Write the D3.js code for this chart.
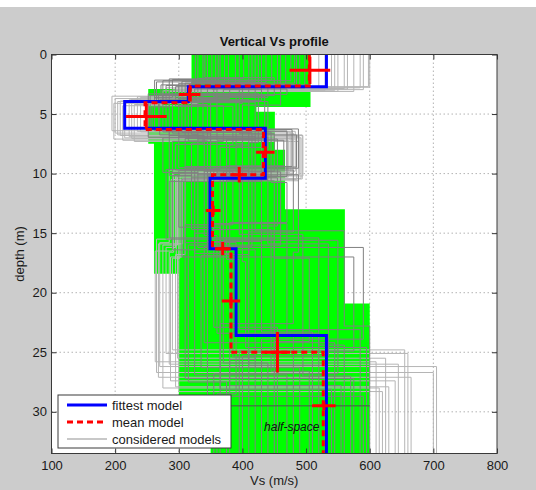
<!DOCTYPE html>
<html>
<head>
<meta charset="utf-8">
<script src="https://cdn.jsdelivr.net/npm/d3@7"></script>
<style>
  html, body { margin: 0; padding: 0; background: #ffffff; }
  svg { display: block; }
  text { font-family: "Liberation Sans", Arial, Helvetica, sans-serif; }
</style>
</head>
<body>
<svg id="chart" width="536" height="490"></svg>
<script>
// ---- axis ticks ----
const xTicks = [100, 200, 300, 400, 500, 600, 700, 800];
const yTicks = [0, 5, 10, 15, 20, 25, 30];
const maxDepth = 33.5;

// ---- fittest model (layer Vs, interface depths) ----
const fittestVs = [532, 315, 215, 436, 349, 390, 532];
const fittestDepth = [2.7, 3.95, 6.2, 10.4, 16.3, 23.6];

// ---- mean model ----
const meanVs = [505, 318, 247, 433, 353, 382, 527];
const meanDepth = [2.65, 4.05, 6.3, 10.1, 16.3, 25.0];

// ---- mean-model uncertainty crosses ----
const crossVs = [506, 317, 249, 436, 395, 354, 369, 382, 455, 528];
const crossDepth = [1.33, 3.35, 5.2, 8.2, 10.1, 13.1, 16.3, 20.7, 25.0, 29.5];
const crossVsErr = [32, 17, 32, 14.5, 12, 11.5, 9, 14.5, 20, 18.5];
const crossDepthErr = [1.15, 0.55, 1.05, 0.5, 0.65, 0.4, 0.55, 0.35, 1.7, 0.35];

// ---- range of accepted models (green envelope) ----
const envLeftTop = [0, 2.9, 7.5, 18.4, 29.5];
const envLeftVs = [320, 252, 261, 300, 350];
const envRightTop = [0, 4.4, 4.8, 8.0, 13.0, 20.9];
const envRightVs = [507, 422, 451, 467, 561, 600];
const halfSpaceDepth = 29.5;

// ---- considered models: one array per layer / interface, one entry per model ----
const modelVs = [
  [330, 455, 372, 498, 341, 420, 389, 476, 352, 437, 505, 365, 410, 482, 326, 446, 395, 468, 358, 430, 490, 345, 402, 460, 378, 425, 338, 485, 415, 362],
  [290, 410, 265, 335, 450, 300, 380, 275, 470, 320, 355, 285, 430, 310, 395, 262, 345, 460, 305, 370, 280, 420, 330, 295, 440, 315, 360, 272, 400, 325],
  [262, 330, 285, 410, 255, 370, 300, 440, 275, 345, 390, 258, 320, 425, 290, 360, 268, 400, 310, 435, 280, 350, 252, 385, 305, 420, 270, 338, 395, 315],
  [300, 455, 340, 380, 478, 290, 420, 365, 445, 275, 400, 488, 330, 410, 350, 465, 285, 390, 430, 310, 470, 360, 440, 295, 415, 375, 485, 320, 450, 345],
  [340, 290, 385, 450, 310, 420, 365, 280, 470, 330, 400, 355, 488, 300, 440, 375, 320, 460, 285, 410, 350, 430, 305, 480, 345, 395, 325, 455, 370, 415],
  [360, 420, 310, 505, 390, 560, 335, 450, 380, 590, 405, 325, 480, 365, 535, 395, 445, 315, 520, 370, 470, 345, 575, 410, 355, 495, 385, 430, 550, 340],
  [520, 380, 575, 450, 360, 600, 490, 410, 555, 430, 595, 470, 365, 540, 400, 585, 505, 375, 560, 440, 480, 590, 395, 530, 455, 570, 420, 510, 355, 545]
];
const modelDepth = [
  [2.1, 2.6, 2.3, 2.8, 1.95, 2.45, 2.7, 2.2, 2.9, 2.35, 2.55, 2.05, 2.75, 2.4, 2.65, 2.15, 2.85, 2.5, 2.25, 2.95, 2.6, 2.3, 2.0, 2.7, 2.45, 2.8, 2.2, 2.55, 2.35, 2.9],
  [3.6, 3.3, 4.1, 3.8, 3.45, 4.3, 3.7, 3.95, 3.35, 4.2, 3.55, 4.4, 3.85, 3.25, 4.05, 3.65, 3.4, 4.25, 3.75, 3.5, 4.15, 3.9, 3.3, 4.35, 3.6, 4.0, 3.8, 3.45, 4.1, 3.7],
  [6.4, 7.1, 6.8, 7.6, 6.3, 7.3, 6.9, 7.8, 6.5, 7.0, 7.5, 6.25, 6.7, 7.4, 6.6, 7.2, 6.35, 7.7, 6.85, 7.05, 6.45, 7.35, 6.95, 7.55, 6.55, 7.15, 6.75, 7.45, 6.65, 7.25],
  [9.5, 10.2, 9.8, 10.6, 9.4, 10.0, 10.4, 9.65, 10.75, 9.9, 10.3, 9.55, 10.1, 9.75, 10.5, 9.35, 10.15, 9.85, 10.65, 9.6, 10.25, 9.95, 10.45, 9.7, 10.05, 10.55, 9.45, 10.35, 9.8, 10.2],
  [15.2, 16.4, 14.3, 17.1, 15.8, 14.8, 16.9, 15.5, 14.1, 16.2, 17.4, 15.0, 16.6, 14.5, 15.9, 17.2, 14.7, 16.0, 15.4, 16.8, 14.2, 15.7, 17.0, 14.9, 16.3, 15.1, 16.7, 14.4, 15.6, 16.1],
  [23.4, 25.6, 27.2, 24.1, 28.5, 22.8, 26.3, 25.0, 27.8, 23.9, 24.6, 26.9, 22.6, 28.1, 25.3, 23.1, 26.6, 27.5, 24.4, 25.9, 23.6, 28.7, 24.9, 26.1, 22.9, 27.0, 25.4, 23.3, 26.8, 24.2]
];
// poorer-fit models, drawn lighter
const outerVs = [
  [540, 575, 598, 520, 560, 590, 530, 585, 550, 565, 600, 545],
  [300, 285, 320, 275, 310, 295, 330, 280, 305, 290, 315, 300],
  [200, 215, 195, 230, 208, 240, 198, 222, 212, 235, 204, 226],
  [480, 492, 470, 488, 495, 475, 485, 490, 472, 483, 494, 478],
  [290, 305, 285, 300, 295, 310, 288, 302, 298, 292, 306, 296],
  [263, 287, 270, 300, 280, 295, 265, 290, 275, 285, 268, 298],
  [610, 640, 705, 620, 660, 630, 700, 655, 615, 645, 665, 625]
];
const outerDepth = [
  [2.9, 3.1, 2.7, 3.05, 2.85, 2.95, 3.0, 2.8, 3.1, 2.9, 2.75, 3.0],
  [3.7, 4.0, 3.5, 4.2, 3.9, 3.6, 4.1, 3.8, 4.3, 3.55, 3.95, 3.75],
  [6.6, 7.0, 6.4, 7.3, 6.8, 6.5, 7.1, 6.9, 7.2, 6.45, 6.75, 7.05],
  [10.0, 10.4, 9.7, 10.6, 10.2, 9.9, 10.5, 10.1, 10.3, 9.8, 10.45, 10.15],
  [16.5, 17.0, 15.8, 17.3, 16.2, 16.8, 15.5, 17.1, 16.0, 16.6, 15.9, 16.9],
  [25.8, 27.4, 26.2, 28.3, 25.1, 27.9, 26.7, 24.8, 28.0, 26.0, 27.1, 25.5]
];

const legendItems = ["fittest model", "mean model", "considered models"];

// ---- layout ----
const svg = d3.select("#chart");
const W = 536, H = 490;
const plotL = 51.5, plotR = 497, plotT = 54.5, plotB = 453.5;

const x = d3.scaleLinear().domain([100, 800]).range([plotL, plotR]);
const y = d3.scaleLinear().domain([0, maxDepth]).range([plotT, plotB]);

// figure background
svg.append("rect").attr("width", W).attr("height", H).attr("fill", "#cccccc");
svg.append("rect").attr("width", W).attr("height", 7).attr("fill", "#ffffff");

// axes area
svg.append("rect")
  .attr("x", plotL).attr("y", plotT)
  .attr("width", plotR - plotL).attr("height", plotB - plotT)
  .attr("fill", "#ffffff");

svg.append("clipPath").attr("id", "plotClip")
  .append("rect")
  .attr("x", plotL).attr("y", plotT)
  .attr("width", plotR - plotL).attr("height", plotB - plotT);

// dotted grid
const grid = svg.append("g").attr("stroke", "#b3b3b3").attr("stroke-width", 1)
  .attr("stroke-dasharray", "1.5,2.5");
grid.selectAll(".gx").data(xTicks.slice(1, -1)).join("line")
  .attr("x1", d => x(d)).attr("x2", d => x(d))
  .attr("y1", plotT).attr("y2", plotB);
grid.selectAll(".gy").data(yTicks.slice(1)).join("line")
  .attr("x1", plotL).attr("x2", plotR)
  .attr("y1", d => y(d)).attr("y2", d => y(d));

const plot = svg.append("g").attr("clip-path", "url(#plotClip)");

// step profile helper: layer velocities + interface depths -> polyline points
function stepPoints(vs, depths) {
  const pts = [];
  let top = 0;
  vs.forEach((v, i) => {
    const bot = i < depths.length ? depths[i] : maxDepth;
    pts.push([v, top], [v, bot]);
    top = bot;
  });
  return pts;
}
const line = d3.line().x(d => x(d[0])).y(d => y(d[1]));

// green envelope of accepted models
function envelopePoints() {
  const pts = [];
  envLeftVs.forEach((v, i) => {
    const bot = i + 1 < envLeftTop.length ? envLeftTop[i + 1] : maxDepth;
    pts.push([v, envLeftTop[i]], [v, bot]);
  });
  for (let i = envRightVs.length - 1; i >= 0; i--) {
    const bot = i + 1 < envRightTop.length ? envRightTop[i + 1] : maxDepth;
    pts.push([envRightVs[i], bot], [envRightVs[i], envRightTop[i]]);
  }
  return pts;
}
plot.append("path")
  .attr("d", line(envelopePoints()) + "Z")
  .attr("fill", "#00ff00").attr("stroke", "none");

// considered models
function modelsOf(vsArr, depthArr) {
  const n = vsArr[0].length;
  return d3.range(n).map(i => stepPoints(vsArr.map(l => l[i]), depthArr.map(l => l[i])));
}
plot.append("g").selectAll("path").data(modelsOf(outerVs, outerDepth)).join("path")
  .attr("d", line).attr("fill", "none")
  .attr("stroke", "#b5b5b5").attr("stroke-width", 1);
plot.append("g").selectAll("path").data(modelsOf(modelVs, modelDepth)).join("path")
  .attr("d", line).attr("fill", "none")
  .attr("stroke", "#808080").attr("stroke-width", 1);

// top of the half-space
plot.append("line")
  .attr("x1", x(300)).attr("x2", x(600))
  .attr("y1", y(halfSpaceDepth)).attr("y2", y(halfSpaceDepth))
  .attr("stroke", "#505050").attr("stroke-width", 1);

plot.append("text")
  .attr("x", x(434)).attr("y", y(31.65))
  .attr("font-size", 12).attr("font-style", "italic").attr("fill", "#111")
  .text("half-space");

// fittest and mean models
plot.append("path")
  .attr("d", line(stepPoints(fittestVs, fittestDepth)))
  .attr("fill", "none").attr("stroke", "#0000ff").attr("stroke-width", 3);
plot.append("path")
  .attr("d", line(stepPoints(meanVs, meanDepth)))
  .attr("fill", "none").attr("stroke", "#ff0000").attr("stroke-width", 3)
  .attr("stroke-dasharray", "6,4");

// uncertainty crosses
const crosses = plot.append("g").attr("stroke", "#ff0000").attr("stroke-width", 3);
crossVs.forEach((v, i) => {
  crosses.append("line")
    .attr("x1", x(v - crossVsErr[i])).attr("x2", x(v + crossVsErr[i]))
    .attr("y1", y(crossDepth[i])).attr("y2", y(crossDepth[i]));
  crosses.append("line")
    .attr("x1", x(v)).attr("x2", x(v))
    .attr("y1", y(crossDepth[i] - crossDepthErr[i])).attr("y2", y(crossDepth[i] + crossDepthErr[i]));
});

// axes with inward ticks on all four sides
const tickLen = 5;
const axB = svg.append("g").attr("transform", `translate(0,${plotB})`)
  .call(d3.axisBottom(x).tickValues(xTicks).tickSizeInner(-tickLen).tickSizeOuter(0).tickPadding(7));
const axT = svg.append("g").attr("transform", `translate(0,${plotT})`)
  .call(d3.axisTop(x).tickValues(xTicks).tickSizeInner(-tickLen).tickSizeOuter(0).tickFormat(""));
const axL = svg.append("g").attr("transform", `translate(${plotL},0)`)
  .call(d3.axisLeft(y).tickValues(yTicks).tickSizeInner(-tickLen).tickSizeOuter(0).tickPadding(4.5));
const axR = svg.append("g").attr("transform", `translate(${plotR},0)`)
  .call(d3.axisRight(y).tickValues(yTicks).tickSizeInner(-tickLen).tickSizeOuter(0).tickFormat(""));
[axB, axT, axL, axR].forEach(a => {
  a.select(".domain").remove();
  a.selectAll(".tick line").attr("stroke", "#333");
  a.selectAll(".tick text").attr("font-size", 13).attr("fill", "#1a1a1a")
    .attr("font-family", "'Liberation Sans', Arial, sans-serif");
});

// axes box
svg.append("rect")
  .attr("x", plotL).attr("y", plotT)
  .attr("width", plotR - plotL).attr("height", plotB - plotT)
  .attr("fill", "none").attr("stroke", "#3a3a3a").attr("stroke-width", 1);

// title and axis labels
svg.append("text").attr("x", (plotL + plotR) / 2).attr("y", 45.5)
  .attr("text-anchor", "middle").attr("font-size", 13).attr("font-weight", "bold")
  .attr("fill", "#111").text("Vertical Vs profile");
svg.append("text").attr("x", (plotL + plotR) / 2).attr("y", 485)
  .attr("text-anchor", "middle").attr("font-size", 13).attr("fill", "#1a1a1a")
  .text("Vs (m/s)");
svg.append("text")
  .attr("transform", `translate(24,${(plotT + plotB) / 2}) rotate(-90)`)
  .attr("text-anchor", "middle").attr("font-size", 13).attr("fill", "#1a1a1a")
  .text("depth (m)");

// legend
const lg = svg.append("g").attr("transform", "translate(58,395)");
lg.append("rect").attr("width", 173).attr("height", 53)
  .attr("fill", "#ffffff").attr("stroke", "#3a3a3a").attr("stroke-width", 1);
const legendStyles = [
  { stroke: "#0000ff", width: 3, dash: null },
  { stroke: "#ff0000", width: 3, dash: "6,4" },
  { stroke: "#c8c8c8", width: 2, dash: null }
];
legendItems.forEach((label, i) => {
  const yy = 10 + i * 17;
  lg.append("line").attr("x1", 9).attr("x2", 49).attr("y1", yy).attr("y2", yy)
    .attr("stroke", legendStyles[i].stroke).attr("stroke-width", legendStyles[i].width)
    .attr("stroke-dasharray", legendStyles[i].dash);
  lg.append("text").attr("x", 54).attr("y", yy + 4.5)
    .attr("font-size", 13).attr("fill", "#1a1a1a").text(label);
});
</script>
</body>
</html>
